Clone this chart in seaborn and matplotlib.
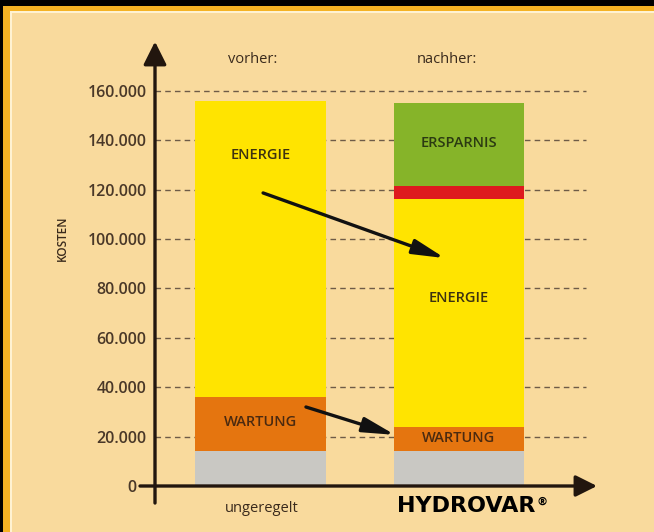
import matplotlib
matplotlib.use("Agg")
import matplotlib.pyplot as plt
from matplotlib.patches import Rectangle
import seaborn as sns

# ---------------- data ----------------
categories = ["vorher", "nachher"]
header_labels = ["vorher:", "nachher:"]
# segment heights (bottom -> top)
base_costs = [14000, 14000]          # grey
wartung_costs = [22000, 10000]       # orange
energie_costs = [120000, 92300]      # yellow
extra_costs = [0, 5200]              # red band
ersparnis = [0, 33700]               # green
y_ticks = [0, 20000, 40000, 60000, 80000, 100000, 120000, 140000, 160000]
y_tick_labels = ["0", "20.000", "40.000", "60.000", "80.000",
                 "100.000", "120.000", "140.000", "160.000"]

# ---------------- style ----------------
W, H = 654, 532
BG = "#F9DA9D"
GOLD = "#F4B224"
TXT = "#3a2a1c"
AX = "#22160e"
COLORS = {
    "base": "#C9C8C3",
    "wartung": "#E5750F",
    "energie": "#FFE400",
    "extra": "#DE1A1E",
    "ersparnis": "#86B429",
}

plt.rcParams["font.family"] = ["Open Sans", "DejaVu Sans"]

fig = plt.figure(figsize=(W / 100, H / 100), dpi=100)
fig.patch.set_facecolor("black")


def fx(x):
    return x / W


def fy(y):
    return 1 - y / H


# frame
fig.add_artist(Rectangle((fx(3), 0), 1, fy(6), transform=fig.transFigure,
                         facecolor=GOLD, edgecolor="none", zorder=-10))
fig.add_artist(Rectangle((fx(10), 0), 1, fy(11), transform=fig.transFigure,
                         facecolor="#FFF2D2", edgecolor="none", zorder=-9))
fig.add_artist(Rectangle((fx(12), 0), 1, fy(13), transform=fig.transFigure,
                         facecolor=BG, edgecolor="none", zorder=-8))

# axes placement: axis line at x=155 px, y=0 at 486 px
ax_left, ax_right = 155, 600
ax_bottom, ax_top = 486, 41.6
ax = fig.add_axes([fx(ax_left), fy(ax_bottom), (ax_right - ax_left) / W,
                   (ax_bottom - ax_top) / H])
ax.set_facecolor("none")

# cumulative tops
segs = ["base", "wartung", "energie", "extra", "ersparnis"]
vals = [base_costs, wartung_costs, energie_costs, extra_costs, ersparnis]
tops = []
for i in range(len(categories)):
    c = 0
    t = []
    for v in vals:
        c += v[i]
        t.append(c)
    tops.append(t)

bar_w = 0.655
# draw from top layer to bottom layer (painter's stacking)
for k in reversed(range(len(segs))):
    for i, cat in enumerate(categories):
        if vals[k][i] == 0:
            continue
        sns.barplot(x=[cat], y=[tops[i][k]], order=categories,
                    color=COLORS[segs[k]], saturation=1, width=bar_w,
                    errorbar=None, ax=ax, zorder=2, edgecolor="none",
                    linewidth=0)

xl = -(260.5 - ax_left) / 198.5
xr = (ax_right - 260.5) / 198.5
ax.set_xlim(xl, xr)
ax.set_ylim(0, 180000)
ax.set_xlabel("")
ax.set_ylabel("")
ax.set_xticks([])
for s in ax.spines.values():
    s.set_visible(False)

# ticks
ax.set_yticks(y_ticks)
ax.set_yticklabels(y_tick_labels)
ax.tick_params(axis="y", length=0, pad=6, labelsize=11.5, labelcolor="#4a3828")
for t in ax.get_yticklabels():
    t.set_fontweight("semibold")
ax.yaxis.get_major_ticks()[0].set_pad(13)

# dashed grid
ax.hlines(y_ticks[1:], xl, 1.64, colors="#6e5b47", linewidth=1.0,
          linestyles=(0, (4, 3)), zorder=1)

# axes arrows
ax.annotate("", xy=(xl, 180000), xytext=(xl, -6900), xycoords="data",
            arrowprops=dict(arrowstyle="-|>,head_length=1.0,head_width=0.5",
                            mutation_scale=14, lw=2.4, color=AX,
                            shrinkA=0, shrinkB=0), annotation_clip=False)
ax.annotate("", xy=((597 - 260.5) / 198.5, 0), xytext=((140 - 260.5) / 198.5, 0),
            xycoords="data",
            arrowprops=dict(arrowstyle="-|>,head_length=1.0,head_width=0.5",
                            mutation_scale=13, lw=2.4, color=AX,
                            shrinkA=0, shrinkB=0), annotation_clip=False)

# change arrows
arrow_kw = dict(arrowstyle="-|>,head_length=1.3,head_width=0.3",
                mutation_scale=15, lw=2.4, color="#111111",
                shrinkA=0, shrinkB=0)
ax.annotate("", xy=(0.929, 92300), xytext=(0.013, 118700),
            arrowprops=arrow_kw, annotation_clip=False, zorder=5)
ax.annotate("", xy=(0.678, 20700), xytext=(0.229, 32000),
            arrowprops=arrow_kw, annotation_clip=False, zorder=5)

# texts
fig.text(fx(253), fy(60), header_labels[0], ha="center", va="center",
         fontsize=10.5, color=TXT)
fig.text(fx(447), fy(60), header_labels[1], ha="center", va="center",
         fontsize=10.5, color=TXT)
fig.text(fx(62), fy(238), "KOSTEN", ha="center", va="center", rotation=90,
         fontsize=8.5, color=TXT, fontweight="semibold")
fig.text(fx(262), fy(509), "ungeregelt", ha="center", va="center",
         fontsize=10.5, color=TXT)
logo = fig.text(fx(397), fy(506.5), "HYDROVAR", ha="left", va="center",
                fontsize=16, fontweight="heavy", color="black",
                family="DejaVu Sans")
ax.annotate("®", xy=(1, 1), xycoords=logo, xytext=(1, 0),
            textcoords="offset points", ha="left", va="top", fontsize=8,
            fontweight="bold", color="black", family="DejaVu Sans",
            annotation_clip=False)

lab = dict(ha="center", va="center", fontsize=10.5, zorder=6,
           fontweight="semibold")
ax.text(0, 134000, "ENERGIE", color="#3d3210", **lab)
ax.text(1, 76000, "ENERGIE", color="#3d3210", **lab)
ax.text(1, 139000, "ERSPARNIS", color="#2b3a12", **lab)
ax.text(0, 25800, "WARTUNG", color="#4b2a10", **lab)
ax.text(1, 19400, "WARTUNG", color="#4b2a10", **lab)

fig.savefig("out.png", dpi=100, facecolor=fig.get_facecolor())
